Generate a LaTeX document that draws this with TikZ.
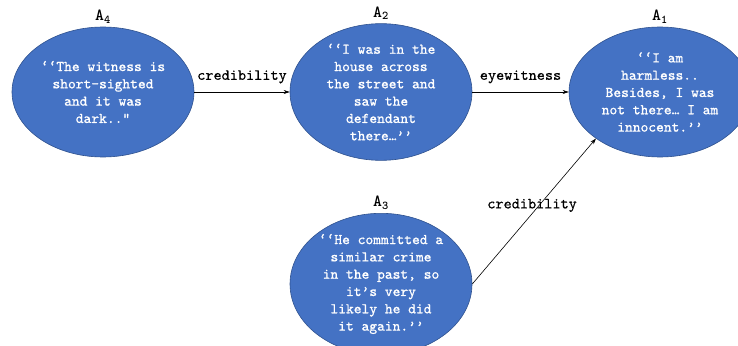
\documentclass[tikz,border=0pt]{standalone}
\usepackage{fontspec}
\setmainfont{Latin Modern Roman}
\newfontfamily\argtt{lmmono10-regular.otf}[FakeBold=0.9]
\newfontfamily\reltt{lmmono10-regular.otf}[FakeBold=0.35]
\usetikzlibrary{shapes.geometric,arrows.meta}
\definecolor{nodeblue}{HTML}{4472C4}
\definecolor{nodeedge}{HTML}{2F528F}
\begin{document}
\begin{tikzpicture}[x=1pt,y=-1pt,
  arg/.style={ellipse, fill=nodeblue, draw=nodeedge, line width=0.6pt,
    minimum width=182pt, minimum height=130pt, inner sep=0pt,
    text=white, align=center, font=\argtt\fontsize{14.8}{17.3}\selectfont},
  argname/.style={font=\ttfamily\bfseries\fontsize{17}{18}\selectfont, text=black},
  rel/.style={-{Stealth[length=6pt,width=4pt]}, line width=0.6pt, black},
  rellabel/.style={font=\reltt\fontsize{15.5}{17}\selectfont, text=black}
]
\useasboundingbox (0,0) rectangle (738,345);
\clip (0,0) rectangle (738,345);
\fill[white] (0,0) rectangle (738,345);

\node[arg, label={[argname, label distance=0pt]above:A\textsubscript{4}}] (A4) at (103,92)
  {‘‘The witness is\\short-sighted\\and it was\\dark.."};
\node[arg, label={[argname, label distance=0pt]above:A\textsubscript{2}}] (A2) at (381,92)
  {‘‘I was in the\\house across\\the street and\\saw the\\defendant\\there…’’};
\node[arg, label={[argname, label distance=0pt]above:A\textsubscript{1}}] (A1) at (660,92)
  {‘‘I am\\harmless..\\Besides, I was\\not there… I am\\innocent.’’};
\node[arg, label={[argname, label distance=0pt]above:A\textsubscript{3}}] (A3) at (381,284)
  {‘‘He committed a\\similar crime\\in the past, so\\it’s very\\likely he did\\it again.’’};

\draw[rel] (A4.east) -- node[rellabel, above=5pt] {credibility} (A2.west);
\draw[rel] (A2.east) -- node[rellabel, above=5pt] {eyewitness} (A1.west);
\draw[rel] (A3.east) -- node[rellabel, pos=0.54, xshift=-7pt] {credibility} (A1.216);
\end{tikzpicture}
\end{document}
